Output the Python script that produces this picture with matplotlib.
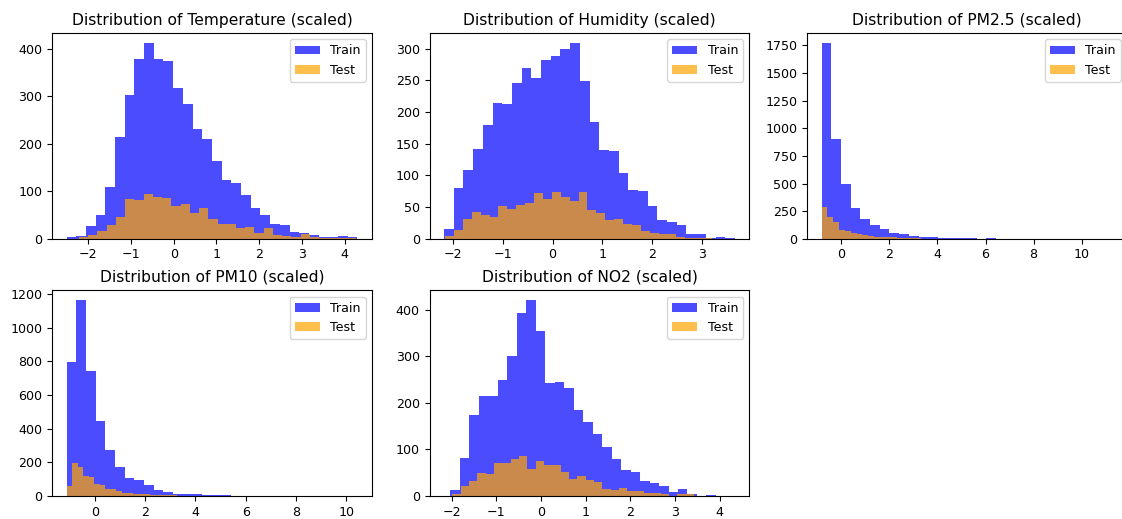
import matplotlib
matplotlib.use("Agg")
import matplotlib.pyplot as plt
import numpy as np

features = ["Temperature", "Humidity", "PM2.5", "PM10", "NO2"]

# (min, max) of the scaled values, 30 bins each
train_range = {
    "Temperature": (-2.51, 4.30),
    "Humidity": (-2.17, 3.65),
    "PM2.5": (-0.82, 11.28),
    "PM10": (-1.12, 10.44),
    "NO2": (-2.03, 4.34),
}
test_range = {
    "Temperature": (-2.22, 4.27),
    "Humidity": (-2.15, 3.19),
    "PM2.5": (-0.82, 6.45),
    "PM10": (-1.12, 5.48),
    "NO2": (-2.17, 3.42),
}

# bin counts
train_counts = {
    "Temperature": [3, 5, 26, 50, 108, 215, 303, 378, 412, 378, 373, 317, 283, 231, 210,
                    164, 124, 117, 91, 65, 50, 31, 28, 14, 12, 8, 3, 3, 5, 3],
    "Humidity": [15, 80, 108, 141, 179, 214, 212, 246, 270, 253, 282, 288, 300, 309, 249,
                 184, 140, 138, 103, 77, 75, 51, 29, 27, 21, 7, 7, 2, 3, 2],
    "PM2.5": [1774, 899, 492, 281, 175, 121, 84, 54, 45, 24, 18, 15, 9, 8, 8,
              7, 0, 8, 0, 0, 0, 0, 0, 0, 0, 0, 0, 0, 0, 1],
    "PM10": [794, 1165, 742, 444, 272, 173, 109, 97, 67, 34, 26, 12, 12, 10, 6,
             5, 5, 0, 0, 0, 0, 0, 0, 0, 0, 0, 0, 0, 0, 1],
    "NO2": [12, 81, 175, 214, 215, 249, 301, 394, 421, 355, 243, 245, 232, 185, 158,
            133, 105, 80, 55, 51, 32, 27, 21, 8, 14, 4, 1, 2, 0, 1],
}
test_counts = {
    "Temperature": [3, 7, 16, 28, 46, 84, 82, 95, 88, 85, 68, 74, 55, 65, 41,
                    32, 32, 22, 25, 13, 22, 7, 6, 4, 9, 3, 2, 2, 1, 1],
    "Humidity": [5, 14, 31, 42, 38, 35, 52, 47, 54, 57, 72, 63, 73, 66, 59,
                 73, 46, 40, 30, 31, 23, 21, 12, 9, 7, 8, 3, 2, 1, 1],
    "PM2.5": [292, 195, 148, 80, 72, 52, 40, 30, 24, 20, 18, 14, 12, 8, 6,
              4, 3, 2, 2, 1, 1, 0, 1, 0, 0, 0, 0, 0, 0, 1],
    "PM10": [60, 194, 171, 118, 113, 74, 64, 39, 39, 29, 19, 16, 14, 12, 10,
             8, 6, 6, 4, 3, 2, 2, 1, 1, 1, 0, 0, 1, 0, 1],
    "NO2": [1, 4, 22, 32, 49, 47, 70, 70, 80, 86, 59, 76, 66, 66, 51,
            37, 43, 35, 31, 15, 13, 18, 11, 11, 6, 7, 4, 1, 4, 4],
}

plt.rcParams['font.size'] = 9.1
plt.rcParams['axes.titlesize'] = 11.2


def draw_hist(ax, rng, counts, color, label):
    edges = np.linspace(rng[0], rng[1], len(counts) + 1)
    ax.hist(edges[:-1], bins=edges, weights=counts, alpha=0.7, color=color, label=label)


def main():
    fig, axes = plt.subplots(2, 3, figsize=(11.22, 5.19), dpi=100)
    fig.subplots_adjust(left=52 / 1122, right=1127 / 1122, bottom=23 / 519,
                        top=486 / 519, wspace=0.18, hspace=0.25)
    axes = axes.flatten()

    for i, name in enumerate(features):
        ax = axes[i]
        draw_hist(ax, train_range[name], train_counts[name], "blue", "Train")
        draw_hist(ax, test_range[name], test_counts[name], "orange", "Test")
        ax.set_title(f"Distribution of {name} (scaled)")
        ax.legend(loc="upper right")

    axes[5].axis("off")

    fig.savefig("out.png", dpi=100)


if __name__ == '__main__':
    main()
